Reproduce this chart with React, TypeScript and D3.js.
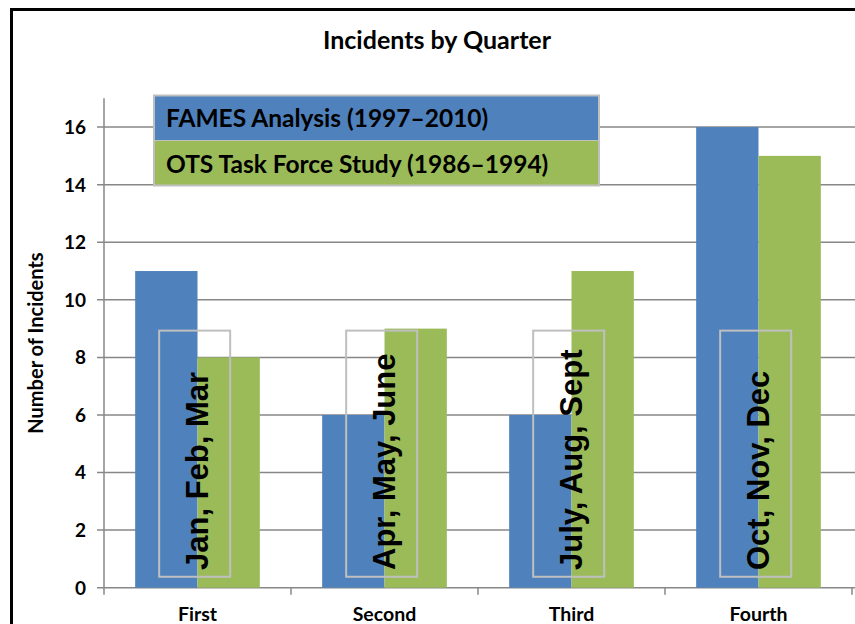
import React from 'react';
import * as d3 from 'd3';

// chart values
const quarters = ['First', 'Second', 'Third', 'Fourth'];
const monthLabels = ['Jan, Feb, Mar', 'Apr, May, June', 'July, Aug, Sept', 'Oct, Nov, Dec'];
const seriesNames = ['FAMES Analysis (1997\u20132010)', 'OTS Task Force Study (1986\u20131994)'];
const famesValues = [11, 6, 6, 16];
const otsValues = [8, 9, 11, 15];
const yTicks = [0, 2, 4, 6, 8, 10, 12, 14, 16];

const colors = ['#4F81BD', '#9BBB59'];
const calibri = 'Lato, "Open Sans", sans-serif';

const W = 855;
const H = 624;

const App = () => {
  const x0 = d3.scaleBand<string>().domain(quarters).range([104, 852]).padding(0);
  const bw = x0.bandwidth();
  const x1 = d3
    .scaleBand<string>()
    .domain(['fames', 'ots'])
    .range([bw / 6, (bw * 5) / 6])
    .padding(0);
  const y = d3.scaleLinear().domain([0, 17]).range([587.7, 98.3]);

  const series = [famesValues, otsValues];
  const keys = ['fames', 'ots'];

  return (
    <svg width={W} height={H} style={{ position: 'absolute', left: 0, top: 0, background: '#fff' }}>
      <rect x={0} y={0} width={W} height={H} fill="#fff" />
      {/* outer frame */}
      <rect x={11.5} y={9.5} width={W + 20} height={H + 20} fill="none" stroke="#000" strokeWidth={3} />

      <text
        x={437}
        y={49}
        textAnchor="middle"
        fontFamily={calibri}
        fontWeight="bold"
        fontSize={25}
        fill="#000"
      >
        Incidents by Quarter
      </text>

      {/* gridlines and y ticks */}
      {yTicks.map((t) => (
        <g key={t}>
          <line x1={97} x2={W} y1={y(t)} y2={y(t)} stroke="#878787" strokeWidth={1.5} />
          <text
            x={86}
            y={y(t)}
            dy="0.36em"
            textAnchor="end"
            fontFamily={calibri}
            fontWeight="bold"
            fontSize={19}
            fill="#000"
          >
            {t}
          </text>
        </g>
      ))}
      <line x1={104} x2={104} y1={y(17)} y2={y(0)} stroke="#878787" strokeWidth={1.5} />

      {/* x ticks */}
      {quarters.map((q) => (
        <line key={q} x1={x0(q)!} x2={x0(q)!} y1={y(0)} y2={y(0) + 7} stroke="#878787" strokeWidth={1.5} />
      ))}
      <line x1={852} x2={852} y1={y(0)} y2={y(0) + 7} stroke="#878787" strokeWidth={1.5} />

      {/* bars */}
      {quarters.map((q, i) => (
        <g key={q} transform={`translate(${x0(q)},0)`}>
          {series.map((vals, s) => (
            <rect
              key={s}
              x={x1(keys[s])!}
              width={x1.bandwidth()}
              y={y(vals[i])}
              height={y(0) - y(vals[i])}
              fill={colors[s]}
            />
          ))}
        </g>
      ))}

      {/* month annotations */}
      {quarters.map((q, i) => (
        <g key={q} transform={`translate(${x0(q)},0)`}>
          <rect
            x={bw * 0.295}
            y={y(8.93)}
            width={71}
            height={y(0.38) - y(8.93)}
            fill="none"
            stroke="#BFBFBF"
            strokeWidth={2}
          />
          <text
            transform={`translate(${bw * 0.555},570) rotate(-90)`}
            fontFamily='"Liberation Sans", Arial, sans-serif'
            fontWeight="bold"
            fontSize={31}
            fill="#000"
          >
            {monthLabels[i]}
          </text>
        </g>
      ))}

      {/* category labels */}
      {quarters.map((q) => (
        <text
          key={q}
          x={x0(q)! + bw / 2}
          y={621}
          textAnchor="middle"
          fontFamily={calibri}
          fontWeight="bold"
          fontSize={19.5}
          fill="#000"
        >
          {q}
        </text>
      ))}

      {/* y axis title */}
      <text
        transform="translate(43,343) rotate(-90)"
        textAnchor="middle"
        fontFamily={calibri}
        fontWeight="bold"
        fontSize={20}
        fill="#000"
      >
        Number of Incidents
      </text>

      {/* legend */}
      {seriesNames.map((name, s) => (
        <g key={name}>
          <rect x={154} y={95.5 + s * 45} width={445} height={45} fill={colors[s]} />
          <text x={166} y={127 + s * 45.5} fontFamily={calibri} fontWeight="bold" fontSize={24.5} fill="#000">
            {name}
          </text>
        </g>
      ))}
      <rect x={154} y={95.5} width={445} height={90} fill="none" stroke="#BFBFBF" strokeWidth={2} />
      <line x1={154} x2={599} y1={140.5} y2={140.5} stroke="#BFBFBF" strokeWidth={1} />
    </svg>
  );
};

export default App;
